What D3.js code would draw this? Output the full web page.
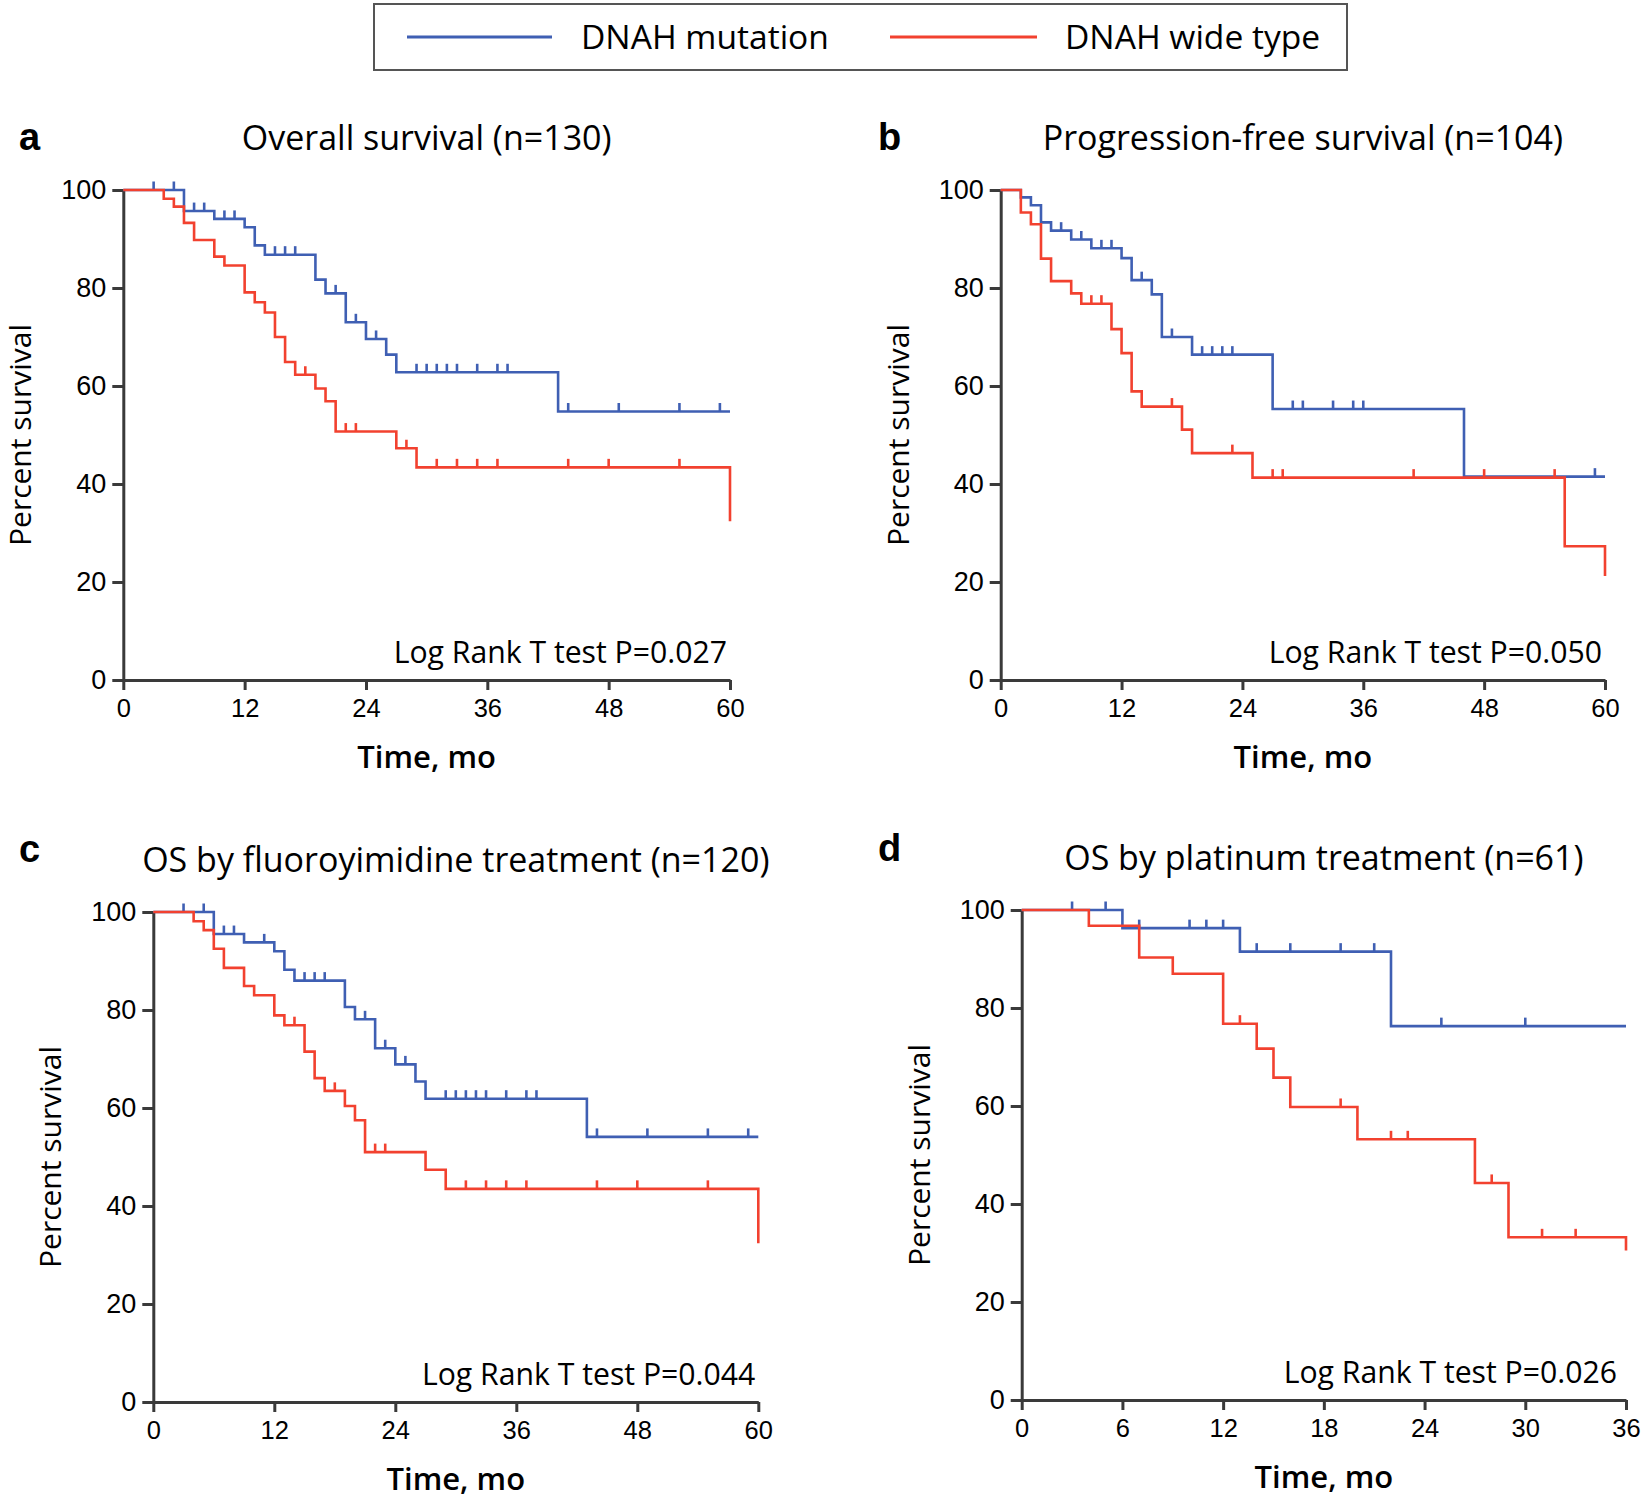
<!DOCTYPE html>
<html>
<head>
<meta charset="utf-8">
<script src="https://cdn.jsdelivr.net/npm/d3@7"></script>
<style>
  html, body { margin: 0; padding: 0; background: #fff; }
  svg { display: block; }
</style>
</head>
<body>
<svg id="chart" width="1643" height="1499"></svg>
<script>
// ---------------- DATA ----------------
const seriesNames = ["DNAH mutation", "DNAH wide type"];
const pctTicks = [0, 20, 40, 60, 80, 100];
const timeTicks60 = [0, 12, 24, 36, 48, 60];
const timeTicks36 = [0, 6, 12, 18, 24, 30, 36];
const panelLetters = ["a", "b", "c", "d"];
const panelTitles = [
  "Overall survival (n=130)",
  "Progression-free survival (n=104)",
  "OS by fluoroyimidine treatment (n=120)",
  "OS by platinum treatment (n=61)"
];
const pValueLabels = [
  "Log Rank T test P=0.027",
  "Log Rank T test P=0.050",
  "Log Rank T test P=0.044",
  "Log Rank T test P=0.026"
];

// events: [month, percent survival after the drop]
const aMutEvents = [[6,95.7],[9,94.1],[12,92.4],[13,88.7],[14,86.8],[19,81.7],[20,78.9],[22,73.0],[24,69.6],[26,66.4],[27,62.8],[43,54.8]];
const aMutCensor = [3,5,7,8,10,11,15,16,17,21,23,25,29,30,31,32,33,35,37,38,44,49,55,59];
const aWtEvents  = [[4,98.2],[5,96.6],[6,93.3],[7,89.8],[9,86.4],[10,84.6],[12,79.1],[13,77.1],[14,75.0],[15,70.0],[16,64.9],[17,62.3],[19,59.5],[20,56.9],[21,50.7],[27,47.3],[29,43.4],[60,32.4]];
const aWtCensor  = [18,22,23,28,31,33,35,37,44,48,55];

const bMutEvents = [[2,98.5],[3,96.9],[4,93.4],[5,91.7],[7,89.9],[9,88.1],[12,86.1],[13,81.6],[15,78.7],[16,70.0],[19,66.4],[27,55.3],[46,41.5]];
const bMutCensor = [6,8,10,11,14,17,20,21,22,23,29,30,33,35,36,59];
const bWtEvents  = [[2,95.4],[3,93.0],[4,86.0],[5,81.4],[7,78.9],[8,76.8],[11,71.6],[12,66.7],[13,58.9],[14,55.8],[18,51.1],[19,46.3],[25,41.3],[56,27.3],[60,21.2]];
const bWtCensor  = [9,10,17,23,27,28,41,48,55];

const cMutEvents = [[6,95.5],[9,93.8],[12,92.0],[13,88.2],[14,86.0],[19,80.6],[20,78.1],[22,72.2],[24,68.9],[26,65.4],[27,61.9],[43,54.1]];
const cMutCensor = [3,5,7,8,11,15,16,17,21,23,25,29,30,31,32,33,35,37,38,44,49,55,59];
const cWtEvents  = [[4,98.1],[5,96.3],[6,92.5],[7,88.6],[9,84.9],[10,83.0],[12,78.9],[13,76.9],[15,71.5],[16,66.1],[17,63.5],[19,60.4],[20,57.5],[21,51.0],[27,47.4],[29,43.5],[60,32.4]];
const cWtCensor  = [14,18,22,23,31,33,35,37,44,48,55];

const dMutEvents = [[6,96.3],[13,91.5],[22,76.3]];
const dMutCensor = [3,5,7,10,11,12,14,16,19,21,25,30];
const dWtEvents  = [[4,96.8],[7,90.3],[9,87.0],[12,76.8],[14,71.7],[15,65.8],[16,59.8],[20,53.2],[27,44.3],[29,33.2],[36,30.5]];
const dWtCensor  = [13,19,22,23,28,31,33];

// ---------------- LAYOUT / STYLE ----------------
const COLORS = ["#3f5fb3", "#f2412f"];
const AXIS_COLOR = "#3a3a3a";
const TEXT_FONT = "'Open Sans', 'Noto Sans', sans-serif";
const TICK_FONT = "'Liberation Sans', Arial, sans-serif";

const layouts = [
  { x0: 123.3, x1: 730,   yTop: 190, yBot: 680,  xmax: 60, ticks: timeTicks60, letterX: 19,  letterDy: 40, pRight: 3 },
  { x0: 1000.7, x1: 1605, yTop: 190, yBot: 680,  xmax: 60, ticks: timeTicks60, letterX: 878, letterDy: 40, pRight: 3 },
  { x0: 153.3, x1: 758.3, yTop: 912, yBot: 1402, xmax: 60, ticks: timeTicks60, letterX: 19,  letterDy: 50, pRight: 3 },
  { x0: 1021.7, x1: 1626, yTop: 910, yBot: 1400, xmax: 36, ticks: timeTicks36, letterX: 878, letterDy: 49, pRight: 9 }
];
const panelSeries = [
  [[aMutEvents, aMutCensor], [aWtEvents, aWtCensor]],
  [[bMutEvents, bMutCensor], [bWtEvents, bWtCensor]],
  [[cMutEvents, cMutCensor], [cWtEvents, cWtCensor]],
  [[dMutEvents, dMutCensor], [dWtEvents, dWtCensor]]
];

const svg = d3.select("#chart");

// ---------------- LEGEND ----------------
const leg = svg.append("g");
leg.append("rect").attr("x", 374).attr("y", 4).attr("width", 973).attr("height", 66)
  .attr("fill", "#fff").attr("stroke", "#555").attr("stroke-width", 2);
const legItems = [
  { lx0: 407, lx1: 552, tx: 581 },
  { lx0: 890, lx1: 1037, tx: 1065 }
];
seriesNames.forEach((name, i) => {
  const it = legItems[i];
  leg.append("line").attr("x1", it.lx0).attr("x2", it.lx1).attr("y1", 37).attr("y2", 37)
    .attr("stroke", COLORS[i]).attr("stroke-width", 3);
  leg.append("text").attr("x", it.tx).attr("y", 49)
    .attr("font-family", TEXT_FONT).attr("font-size", 33.6).attr("fill", "#000")
    .text(name);
});

// ---------------- PANELS ----------------
function survivalAt(events, t) {
  let s = 100;
  for (const [et, es] of events) { if (et <= t) s = es; }
  return s;
}

layouts.forEach((L, pi) => {
  const g = svg.append("g");
  const x = d3.scaleLinear().domain([0, L.xmax]).range([L.x0, L.x1]);
  const y = d3.scaleLinear().domain([0, 100]).range([L.yBot, L.yTop]);

  // axes
  const yAxis = d3.axisLeft(y).tickValues(pctTicks).tickSize(11).tickSizeOuter(0).tickPadding(6);
  const xAxis = d3.axisBottom(x).tickValues(L.ticks).tickSize(10).tickSizeOuter(0).tickPadding(9);
  const gy = g.append("g").attr("transform", `translate(${L.x0},0)`).call(yAxis);
  const gx = g.append("g").attr("transform", `translate(0,${L.yBot})`).call(xAxis);
  [gx, gy].forEach(ax => {
    ax.select(".domain").attr("stroke", AXIS_COLOR).attr("stroke-width", 3);
    ax.selectAll(".tick line").attr("stroke", AXIS_COLOR).attr("stroke-width", 3);
    ax.selectAll(".tick text").attr("font-family", TICK_FONT).attr("font-size", 25.5).attr("fill", "#000");
  });
  gy.selectAll(".tick text").attr("font-size", 27);

  // curves: mutation first, wild type on top
  panelSeries[pi].forEach(([events, censor], si) => {
    const pts = [[0, 100], ...events];
    const last = pts[pts.length - 1];
    if (last[0] < L.xmax) pts.push([L.xmax, last[1]]);
    const line = d3.line().x(d => x(d[0])).y(d => y(d[1])).curve(d3.curveStepAfter);
    g.append("path").attr("d", line(pts)).attr("fill", "none")
      .attr("stroke", COLORS[si]).attr("stroke-width", 2.6);
    g.selectAll(null).data(censor).enter().append("line")
      .attr("x1", d => x(d)).attr("x2", d => x(d))
      .attr("y1", d => y(survivalAt(events, d)))
      .attr("y2", d => y(survivalAt(events, d)) - 8.5)
      .attr("stroke", COLORS[si]).attr("stroke-width", 2.6);
  });

  // title
  g.append("text").attr("x", (L.x0 + L.x1) / 2).attr("y", L.yTop - 40.5)
    .attr("text-anchor", "middle").attr("font-family", TEXT_FONT).attr("font-size", 34)
    .attr("fill", "#000").text(panelTitles[pi]);
  // panel letter
  g.append("text").attr("x", L.letterX).attr("y", L.yTop - L.letterDy)
    .attr("font-family", TICK_FONT).attr("font-weight", "bold").attr("font-size", 38)
    .attr("fill", "#000").text(panelLetters[pi]);
  // y label
  g.append("text")
    .attr("transform", `translate(${L.x0 - 92},${(L.yTop + L.yBot) / 2}) rotate(-90)`)
    .attr("text-anchor", "middle").attr("font-family", TEXT_FONT).attr("font-size", 30)
    .attr("fill", "#000").text("Percent survival");
  // x label
  g.append("text").attr("x", (L.x0 + L.x1) / 2).attr("y", L.yBot + 88)
    .attr("text-anchor", "middle").attr("font-family", TEXT_FONT).attr("font-weight", 600)
    .attr("font-size", 31).attr("fill", "#000").text("Time, mo");
  // p value
  g.append("text").attr("x", L.x1 - L.pRight).attr("y", L.yBot - 17)
    .attr("text-anchor", "end").attr("font-family", TEXT_FONT).attr("font-size", 30.2)
    .attr("fill", "#000").text(pValueLabels[pi]);
});
</script>
</body>
</html>
